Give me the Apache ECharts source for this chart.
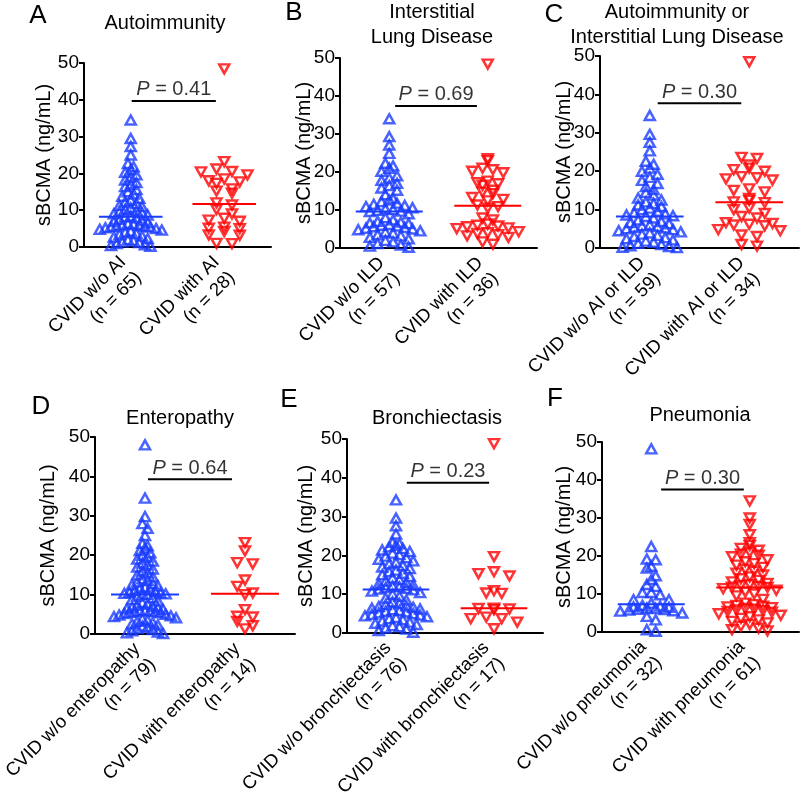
<!DOCTYPE html>
<html><head><meta charset="utf-8">
<script src="https://cdn.jsdelivr.net/npm/echarts@6/dist/echarts.min.js"></script>
<style>html,body{margin:0;padding:0;background:#fff}#c{width:800px;height:803px}</style>
</head><body><div id="c"></div>
<script>
// ---------------- DATA ----------------
const panelLetters = ['A','B','C','D','E','F'];
const panelTitles = ['Autoimmunity','Interstitial\nLung Disease','Autoimmunity or\nInterstitial Lung Disease','Enteropathy','Bronchiectasis','Pneumonia'];
const catsA = ['CVID w/o AI\n(n = 65)','CVID with AI\n(n = 28)'];
const catsB = ['CVID w/o ILD\n(n = 57)','CVID with ILD\n(n = 36)'];
const catsC = ['CVID w/o AI or ILD\n(n = 59)','CVID with AI or ILD\n(n = 34)'];
const catsD = ['CVID w/o enteropathy\n(n = 79)','CVID with enteropathy\n(n = 14)'];
const catsE = ['CVID w/o bronchiectasis\n(n = 76)','CVID with bronchiectasis\n(n = 17)'];
const catsF = ['CVID w/o pneumonia\n(n = 32)','CVID with pneumonia\n(n = 61)'];
const yAxisName = 'sBCMA (ng/mL)';
const yTicks = [0,10,20,30,40,50];
const pValues = ['0.41','0.69','0.30','0.64','0.23','0.30'];
const bracketY = [39.7,37.4,37.7,39.3,38.7,37.5];
const bracketStart = [1.01,1.06,1.08,1.03,1.11,1.10];
const bracketEnd = [1.91,1.89,1.92,1.87,1.95,1.94];

const blueA = [34.5,29.5,27.3,25.0,22.7,21.8,21.0,20.3,19.6,19.0,18.2,17.5,17.0,16.4,15.6,15.0,14.4,13.8,13.2,12.7,12.2,11.8,11.3,11.0,10.6,10.2,9.9,9.6,9.3,9.0,8.7,8.4,8.2,7.9,7.5,7.2,6.9,6.6,6.4,6.2,6.0,5.9,5.7,5.6,5.5,5.4,5.2,5.0,4.8,4.6,4.3,4.0,3.7,3.4,3.0,2.7,2.3,2.0,1.7,1.4,1.2,0.9,0.6,0.4,0.2];
const redA = [48.4,20.4,18.5,15.2,5.4,3.3,21.2,17.7,14.6,11.4,7.3,5.1,1.0,23.2,19.6,17.3,12.0,9.0,7.0,5.0,3.2,0.9,20.5,18.0,15.8,10.2,7.8,4.2];
const blueB = [34.0,29.3,27.1,24.9,22.3,21.6,21.0,20.2,19.0,18.4,17.8,17.0,16.4,15.8,15.2,14.0,13.0,12.6,12.2,11.8,11.5,11.2,10.9,10.6,10.3,10.1,9.9,9.7,9.6,9.0,8.0,7.4,7.0,6.8,6.6,6.4,6.2,6.0,5.8,5.6,5.4,5.2,5.0,4.8,4.5,4.2,3.9,3.5,3.2,2.8,2.4,2.0,1.6,1.2,0.8,0.5,0.2];
const redB = [48.4,23.5,23.0,21.0,20.6,20.2,19.8,17.6,17.2,16.9,16.5,15.2,14.7,14.3,13.3,12.8,12.4,11.3,10.9,10.5,7.9,7.4,6.3,6.0,5.8,5.6,5.3,5.1,4.3,4.0,3.8,3.5,3.2,2.8,1.6,1.0];
const blueC = [34.5,29.6,27.5,25.3,22.6,21.8,20.8,20.0,19.2,18.4,17.6,16.8,16.0,15.2,14.5,13.8,13.0,12.5,12.0,11.6,11.2,10.8,10.4,10.0,9.6,9.2,8.9,8.6,8.4,8.2,7.8,7.3,6.9,6.6,6.3,6.0,5.8,5.6,5.4,5.2,5.0,4.8,4.5,4.2,3.9,3.6,3.3,3.0,2.7,2.4,2.1,1.8,1.5,1.2,0.9,0.6,0.4,0.2,0.1];
const redC = [48.5,23.6,23.3,21.6,20.8,20.4,20.0,18.6,18.3,18.0,17.7,15.4,15.0,14.6,12.9,12.4,12.0,11.8,10.4,10.0,9.0,8.2,7.8,6.6,6.4,6.2,6.0,5.8,4.8,4.5,3.4,3.0,0.9,0.5];
const blueD = [48.0,34.5,29.8,28.0,26.8,25.0,23.0,22.4,21.8,21.2,20.6,20.0,19.5,19.0,18.5,18.0,17.5,17.0,16.5,16.0,15.5,15.0,14.5,14.0,13.6,13.2,12.8,12.5,12.2,11.9,11.6,11.3,11.0,10.8,10.6,10.4,10.3,10.2,10.1,10.0,9.6,9.2,8.8,8.4,8.0,7.6,7.3,7.0,6.8,6.6,6.4,6.2,6.0,5.9,5.8,5.7,5.6,5.5,5.4,5.2,5.0,4.8,4.6,4.4,4.1,3.8,3.5,3.2,2.9,2.6,2.3,2.0,1.7,1.4,1.1,0.8,0.5,0.3,0.1];
const redD = [23.2,21.1,18.1,17.8,13.7,12.1,10.4,10.0,6.2,4.5,4.3,3.2,2.1,1.3];
const blueE = [34.3,29.6,27.6,25.5,23.4,23.0,22.6,22.2,21.8,21.4,21.0,20.6,20.2,19.8,19.4,19.0,18.6,18.2,17.8,17.4,17.0,16.6,16.2,15.8,15.4,15.0,14.6,14.2,13.8,13.4,13.0,12.7,12.4,12.1,11.9,11.7,11.5,11.3,11.1,10.8,10.4,10.0,9.5,9.0,8.5,8.0,7.6,7.3,7.0,6.8,6.6,6.4,6.2,6.0,5.8,5.6,5.4,5.2,5.0,4.8,4.6,4.4,4.2,4.0,3.7,3.4,3.1,2.8,2.5,2.2,1.9,1.6,1.3,1.0,0.6,0.2];
const redE = [48.8,19.7,15.8,15.3,14.7,10.9,10.3,10.2,6.4,6.3,6.2,6.0,4.1,3.7,3.7,2.8,1.1];
const blueF = [48.2,22.5,19.2,19.0,17.3,16.8,14.8,13.8,12.5,12.0,10.4,10.4,9.8,8.5,8.5,7.6,7.0,6.8,6.6,6.5,6.3,6.2,6.0,5.9,5.8,5.6,5.5,5.0,4.1,3.2,0.6,0.2];
const redF = [34.5,30.0,28.3,25.6,23.5,22.8,22.0,21.5,21.0,20.5,20.2,19.8,19.0,18.5,18.0,17.6,17.0,16.5,16.0,15.5,15.0,14.5,14.0,13.6,13.2,12.8,12.5,12.2,12.0,11.8,11.7,11.4,11.0,10.5,10.0,9.5,8.6,7.6,7.2,7.0,6.8,6.6,6.4,6.2,6.0,5.8,5.6,5.4,5.2,4.8,4.4,4.0,3.6,3.2,2.8,2.4,2.0,1.5,1.0,0.6,0.3];

const groupCats = [catsA,catsB,catsC,catsD,catsE,catsF];
const groupBlue = [blueA,blueB,blueC,blueD,blueE,blueF];
const groupRed = [redA,redB,redC,redD,redE,redF];

// ---------------- LAYOUT ----------------
const layout = [
  {left:84, top:63, width:187, height:184, nameGap:30, tx:165, ty:23, lx:38, ly:16},
  {left:340, top:58, width:197, height:190, nameGap:26, tx:432, ty:25, lx:294, ly:13},
  {left:600, top:56, width:199, height:192, nameGap:26, tx:677, ty:25, lx:554, ly:15},
  {left:95, top:437, width:200, height:197, nameGap:37, tx:180, ty:418, lx:41, ly:407},
  {left:347, top:439, width:196, height:194, nameGap:31, tx:437, ty:418, lx:289, ly:400},
  {left:602, top:442, width:197, height:190, nameGap:28, tx:700, ty:415, lx:555, ly:399}
];
const BLUE = '#1a3cff', RED = '#ff0000';
const FONT = "'Liberation Sans', Arial, Helvetica, sans-serif";

function median(a){const s=[...a].sort((x,y)=>x-y);const n=s.length;return n%2?s[(n-1)/2]:(s[n/2-1]+s[n/2])/2;}
// Prism-like column scatter: values binned by symbol height, rows centred on the group,
// one horizontal spacing per group chosen so the widest row fits the column width
function swarm(values, center, pxX, pxY){
  const binH = 8/pxY;
  const bins = new Map();
  values.forEach((v,i)=>{const b=Math.floor(v/binH); if(!bins.has(b)) bins.set(b,[]); bins.get(b).push(i);});
  let maxN = 1;
  bins.forEach(idx=>{maxN=Math.max(maxN, idx.length);});
  const sp = maxN>1 ? Math.min(15.5, 62/(maxN-1)) : 0;
  const out = new Array(values.length);
  bins.forEach(idx=>{
    idx.sort((a,b)=>values[b]-values[a]);
    const n = idx.length;
    const pos = [];
    for(let j=0;j<n;j++) pos.push((j-(n-1)/2)*sp);
    pos.sort((a,b)=>Math.abs(a)-Math.abs(b) || a-b);
    idx.forEach((k,j)=>{ out[k] = [center + pos[j]/pxX, values[k]]; });
  });
  return out;
}

const grids=[], xAxes=[], yAxes=[], series=[], graphics=[];
layout.forEach((L,i)=>{
  grids.push({left:L.left, top:L.top, width:L.width, height:L.height, containLabel:false, outerBoundsMode:'none'});
  const pxX = L.width/2, pxY = L.height/50;
  xAxes.push({gridIndex:i, type:'category', data:groupCats[i], boundaryGap:true,
    axisLine:{lineStyle:{color:'#000', width:2}},
    axisTick:{alignWithLabel:true, length:5, lineStyle:{color:'#000', width:2}},
    axisLabel:{interval:0, rotate:45, margin:20, fontSize:18.5, lineHeight:22, color:'#000', fontFamily:FONT, padding:[27,0,0,0]},
    splitLine:{show:false}});
  xAxes.push({gridIndex:i, type:'value', min:0.5, max:2.5, show:false});
  yAxes.push({gridIndex:i, type:'value', min:yTicks[0], max:yTicks[yTicks.length-1], interval:10,
    name:yAxisName, nameLocation:'middle', nameGap:L.nameGap, nameMoveOverlap:false,
    nameTextStyle:{fontSize:20, color:'#000', fontFamily:FONT},
    axisLine:{show:true, lineStyle:{color:'#000', width:2}},
    axisTick:{show:true, length:5, lineStyle:{color:'#000', width:2}},
    axisLabel:{fontSize:19, color:'#000', margin:5, fontFamily:FONT},
    splitLine:{show:false}});
  const xi = 2*i+1;
  const common = {xAxisIndex:xi, yAxisIndex:i, silent:true, animation:false};
  series.push(Object.assign({type:'line', data:[[1-0.34, median(groupBlue[i])],[1+0.34, median(groupBlue[i])]], symbol:'none', lineStyle:{color:BLUE, width:2}, z:3}, common));
  series.push(Object.assign({type:'line', data:[[2-0.34, median(groupRed[i])],[2+0.34, median(groupRed[i])]], symbol:'none', lineStyle:{color:RED, width:2}, z:3}, common));
  series.push(Object.assign({type:'scatter', data:swarm(groupBlue[i],1,pxX,pxY), symbol:'triangle', symbolSize:[10,9],
    itemStyle:{color:'rgba(255,255,255,0)', borderColor:BLUE, borderWidth:2.5}, z:2}, common));
  series.push(Object.assign({type:'scatter', data:swarm(groupRed[i],2,pxX,pxY), symbol:'triangle', symbolRotate:180, symbolSize:[10,9],
    itemStyle:{color:'rgba(255,255,255,0)', borderColor:RED, borderWidth:2.5}, z:2}, common));
  series.push(Object.assign({type:'line', data:[[bracketStart[i], bracketY[i]],[bracketEnd[i], bracketY[i]]], symbol:'none', lineStyle:{color:'#000', width:2}, z:3}, common));
  series.push(Object.assign({type:'scatter', data:[[(bracketStart[i]+bracketEnd[i])/2, bracketY[i]]], symbolSize:0,
    label:{show:true, position:'top', distance:1, color:'#000', fontSize:20, fontFamily:FONT,
      formatter:'{i|P} = '+pValues[i], rich:{i:{fontStyle:'italic', fontSize:20, fontFamily:FONT, color:'#000'}}}, z:4}, common));
  graphics.push({type:'text', x:L.tx, y:L.ty, style:{text:panelTitles[i], align:'center', verticalAlign:'middle', fontSize:20, lineHeight:25, fontFamily:FONT, fill:'#000'}});
  graphics.push({type:'text', x:L.lx, y:L.ly, style:{text:panelLetters[i], align:'center', verticalAlign:'middle', fontSize:26, fontFamily:FONT, fill:'#000'}});
});

const chart = echarts.init(document.getElementById('c'), null, {renderer:'canvas'});
chart.setOption({animation:false, backgroundColor:'#fff', grid:grids, xAxis:xAxes, yAxis:yAxes, series:series, graphic:graphics});
</script></body></html>
